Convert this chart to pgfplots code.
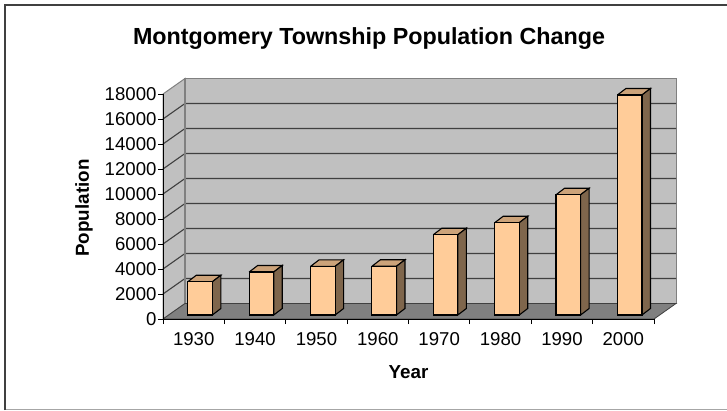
\documentclass[border=0pt]{standalone}
\usepackage{pgfplots}
\pgfplotsset{compat=1.18}
\usepackage{fontspec}
\setmainfont{Liberation Sans}
\definecolor{wall}{HTML}{C0C0C0}
\definecolor{floorc}{HTML}{808080}
\definecolor{gridc}{HTML}{404040}
\definecolor{front}{HTML}{FFCC99}
\definecolor{sidec}{HTML}{7F664C}
\definecolor{topc}{HTML}{CCA37A}
\definecolor{framec}{HTML}{A6A6A6}
\newcommand\bfaces[6]{%
  \addplot[draw=black,line width=1.1pt,fill=topc] coordinates {(#1,#5) (#2,#5) (#3,#6) (#4,#6) (#1,#5)};
  \addplot[draw=black,line width=1.1pt,fill=sidec] coordinates {(#2,320) (#3,840) (#3,#6) (#2,#5) (#2,320)};
}
\begin{document}
\begin{tikzpicture}[x=1pt,y=1pt]
\path[use as bounding box] (0,0) rectangle (727,410);
\draw[framec,line width=1pt] (4.5,0.8) -- (727,0.8);
\draw[gridc,line width=1.6pt] (4.8,0) -- (4.8,405.2) -- (727,405.2);
\begin{axis}[
  at={(163pt,91pt)},anchor=south west,
  scale only axis,width=491pt,height=225pt,
  xmin=0,xmax=8,ymin=0,ymax=18000,
  clip=false,axis on top,
  axis x line*=bottom,axis y line*=left,
  axis line style={-,black,line width=0.9pt},
  xtick={0,1,2,3,4,5,6,7,8},
  xticklabels={1930,1940,1950,1960,1970,1980,1990,2000},
  x tick label as interval=true,
  ytick={0,2000,4000,6000,8000,10000,12000,14000,16000,18000},
  tick style={black,line width=0.9pt},
  tick align=outside,
  major tick length=5pt,
  /pgf/number format/assume math mode=true,
  /pgf/number format/set thousands separator={},
  scaled y ticks=false,
  tick label style={font=\fontsize{18.6}{20}\selectfont},
  x tick label style={yshift=-5pt},
  y tick label style={xshift=2pt},
  title={Montgomery Township Population Change},
  title style={at={(axis description cs:0.4196,1.218)},anchor=center,font=\fontsize{23.3}{26}\selectfont\bfseries},
  xlabel={Year},
  xlabel style={at={(axis description cs:0.5,-0.2356)},anchor=center,font=\fontsize{18.8}{22}\selectfont\bfseries},
  ylabel={Population},
  ylabel style={at={(axis description cs:-0.161,0.493)},anchor=center,font=\fontsize{18.8}{22}\selectfont\bfseries},
]
% back wall and side wall
\addplot[draw=floorc,line width=1pt,fill=wall] coordinates {(0.3585,1240) (8.3585,1240) (8.3585,19240) (0.3585,19240) (0.3585,1240)};
\addplot[draw=floorc,line width=1pt,fill=wall] coordinates {(0,0) (0,18000) (0.3585,19240) (0.3585,1240) (0,0)};
% gridlines
\addplot[draw=gridc,line width=1.1pt,unbounded coords=jump] coordinates {
 (0,2000) (0.3585,3240) (8.3585,3240) (nan,nan)
 (0,4000) (0.3585,5240) (8.3585,5240) (nan,nan)
 (0,6000) (0.3585,7240) (8.3585,7240) (nan,nan)
 (0,8000) (0.3585,9240) (8.3585,9240) (nan,nan)
 (0,10000) (0.3585,11240) (8.3585,11240) (nan,nan)
 (0,12000) (0.3585,13240) (8.3585,13240) (nan,nan)
 (0,14000) (0.3585,15240) (8.3585,15240) (nan,nan)
 (0,16000) (0.3585,17240) (8.3585,17240)
};
\addplot[draw=floorc,line width=1.6pt] coordinates {(0.3585,1240) (0.3585,19240)};
% floor
\addplot[draw=gridc,line width=0.8pt,fill=floorc] coordinates {(0,0) (8,0) (8.3585,1240) (0.3585,1240) (0,0)};
% bars: side and top faces
\bfaces{0.404}{0.804}{0.9425}{0.5425}{2980}{3500}
\bfaces{1.404}{1.804}{1.9425}{1.5425}{3760}{4280}
\bfaces{2.404}{2.804}{2.9425}{2.5425}{4210}{4730}
\bfaces{3.404}{3.804}{3.9425}{3.5425}{4220}{4740}
\bfaces{4.404}{4.804}{4.9425}{4.5425}{6740}{7260}
\bfaces{5.404}{5.804}{5.9425}{5.5425}{7700}{8220}
\bfaces{6.404}{6.804}{6.9425}{6.5425}{9940}{10460}
\bfaces{7.404}{7.804}{7.9425}{7.5425}{17920}{18440}
% bars: front faces
\addplot[ybar,bar width=24.55pt,bar shift=0pt,draw=black,line width=1.1pt,fill=front,yshift=4pt] coordinates {
 (0.604,2660) (1.604,3440) (2.604,3890) (3.604,3900) (4.604,6420) (5.604,7380) (6.604,9620) (7.604,17600)};
\end{axis}
\end{tikzpicture}
\end{document}
